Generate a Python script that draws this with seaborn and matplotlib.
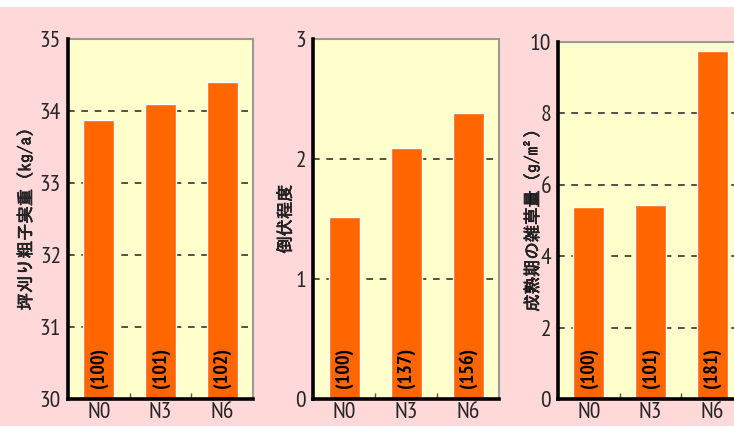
import matplotlib
matplotlib.use("Agg")
import matplotlib.pyplot as plt
import matplotlib.patheffects as pe
from matplotlib.patches import Rectangle
from matplotlib.ticker import FixedLocator
import seaborn as sns
import pandas as pd

# Nitrogen treatments
categories = ["N0", "N3", "N6"]

# Yield per area (kg/a)
yield_values = [33.88, 34.10, 34.40]
yield_index = ["(100)", "(101)", "(102)"]

# Lodging degree
lodging_values = [1.52, 2.09, 2.38]
lodging_index = ["(100)", "(137)", "(156)"]

# Weed weight at maturity (g/m2)
weed_values = [5.36, 5.42, 9.74]
weed_index = ["(100)", "(101)", "(181)"]

ylabels = ["坪刈り粗子実重 (kg/a)", "倒伏程度", "成熟期の雑草量 (g/m²)"]

sns.set_theme(style="white")
plt.rcParams["font.family"] = ["PT Sans Narrow", "Noto Sans CJK JP", "DejaVu Sans"]

BG = "#FFD9D9"
FACE = "#FFFFCC"
BAR = "#FF6600"

fig = plt.figure(figsize=(7.34, 4.26), dpi=100, facecolor=BG)
fig.patches.append(Rectangle((0, 1 - 7 / 426), 1, 7 / 426, transform=fig.transFigure,
                             facecolor="white", edgecolor="none", zorder=0))

W, H = 734.0, 426.0


def ax_rect(left, top, right, bottom):
    return [left / W, 1 - bottom / H, (right - left) / W, (bottom - top) / H]


panels = [
    dict(rect=ax_rect(68, 39, 253, 399), values=yield_values, index=yield_index,
         ylim=(30, 35), ticks=[30, 31, 32, 33, 34, 35], grid=[31, 32, 33, 34],
         ylabel=ylabels[0], labelx=(25 - 68) / 185),
    dict(rect=ax_rect(313, 39, 499, 399), values=lodging_values, index=lodging_index,
         ylim=(0, 3), ticks=[0, 1, 2, 3], grid=[1, 2],
         ylabel=ylabels[1], labelx=(285 - 313) / 186),
    dict(rect=ax_rect(558, 41.7, 743, 399), values=weed_values, index=weed_index,
         ylim=(0, 10), ticks=[0, 2, 4, 6, 8, 10], grid=[2, 4, 6, 8],
         ylabel=ylabels[2], labelx=(532 - 558) / 185),
]

gothic = ["IPAGothic", "Noto Sans CJK JP", "DejaVu Sans"]
heavy = [pe.withStroke(linewidth=0.45, foreground="black")]

for p in panels:
    ax = fig.add_axes(p["rect"])
    ax.set_facecolor(FACE)
    df = pd.DataFrame({"treatment": categories, "value": p["values"]})
    sns.barplot(data=df, x="treatment", y="value", color=BAR, width=0.5,
                saturation=1, ax=ax, zorder=3)
    ax.set_ylim(*p["ylim"])
    ax.set_xlim(-0.5, 2.5)
    ax.set_yticks(p["ticks"])
    ax.set_yticklabels([str(t) for t in p["ticks"]], fontsize=17)
    ax.set_xticks(range(len(categories)))
    ax.set_xticklabels(categories, fontsize=17)
    ax.xaxis.set_minor_locator(FixedLocator([0.5, 1.5]))
    ax.tick_params(axis="x", which="major", length=0, pad=2)
    ax.tick_params(axis="x", which="minor", direction="in", length=4,
                   width=1, color="#555555", bottom=True)
    ax.tick_params(axis="y", direction="in", length=4, width=1, color="black", pad=5)
    for g in p["grid"]:
        ax.axhline(g, color="#333333", lw=1.2, ls=(0, (4, 4)), zorder=1)
    ax.set_xlabel("")
    ax.set_ylabel(p["ylabel"], family=gothic, fontsize=12.5,
                  va="center", ha="center", path_effects=heavy)
    ax.yaxis.set_label_coords(p["labelx"], 0.5)
    for name in ["left", "bottom"]:
        ax.spines[name].set_color("black")
        ax.spines[name].set_linewidth(2.6)
        ax.spines[name].set_zorder(5)
    for name in ["top", "right"]:
        ax.spines[name].set_color("#999999")
        ax.spines[name].set_linewidth(1.5)
    for i, lab in enumerate(p["index"]):
        ax.annotate(lab, xy=(i, 0), xycoords=("data", "axes fraction"),
                    xytext=(0, 8), textcoords="offset points",
                    rotation=90, ha="center", va="bottom", fontsize=14.5,
                    fontweight="bold", color="black", zorder=6)

fig.savefig("out.png", dpi=100, facecolor=BG)
